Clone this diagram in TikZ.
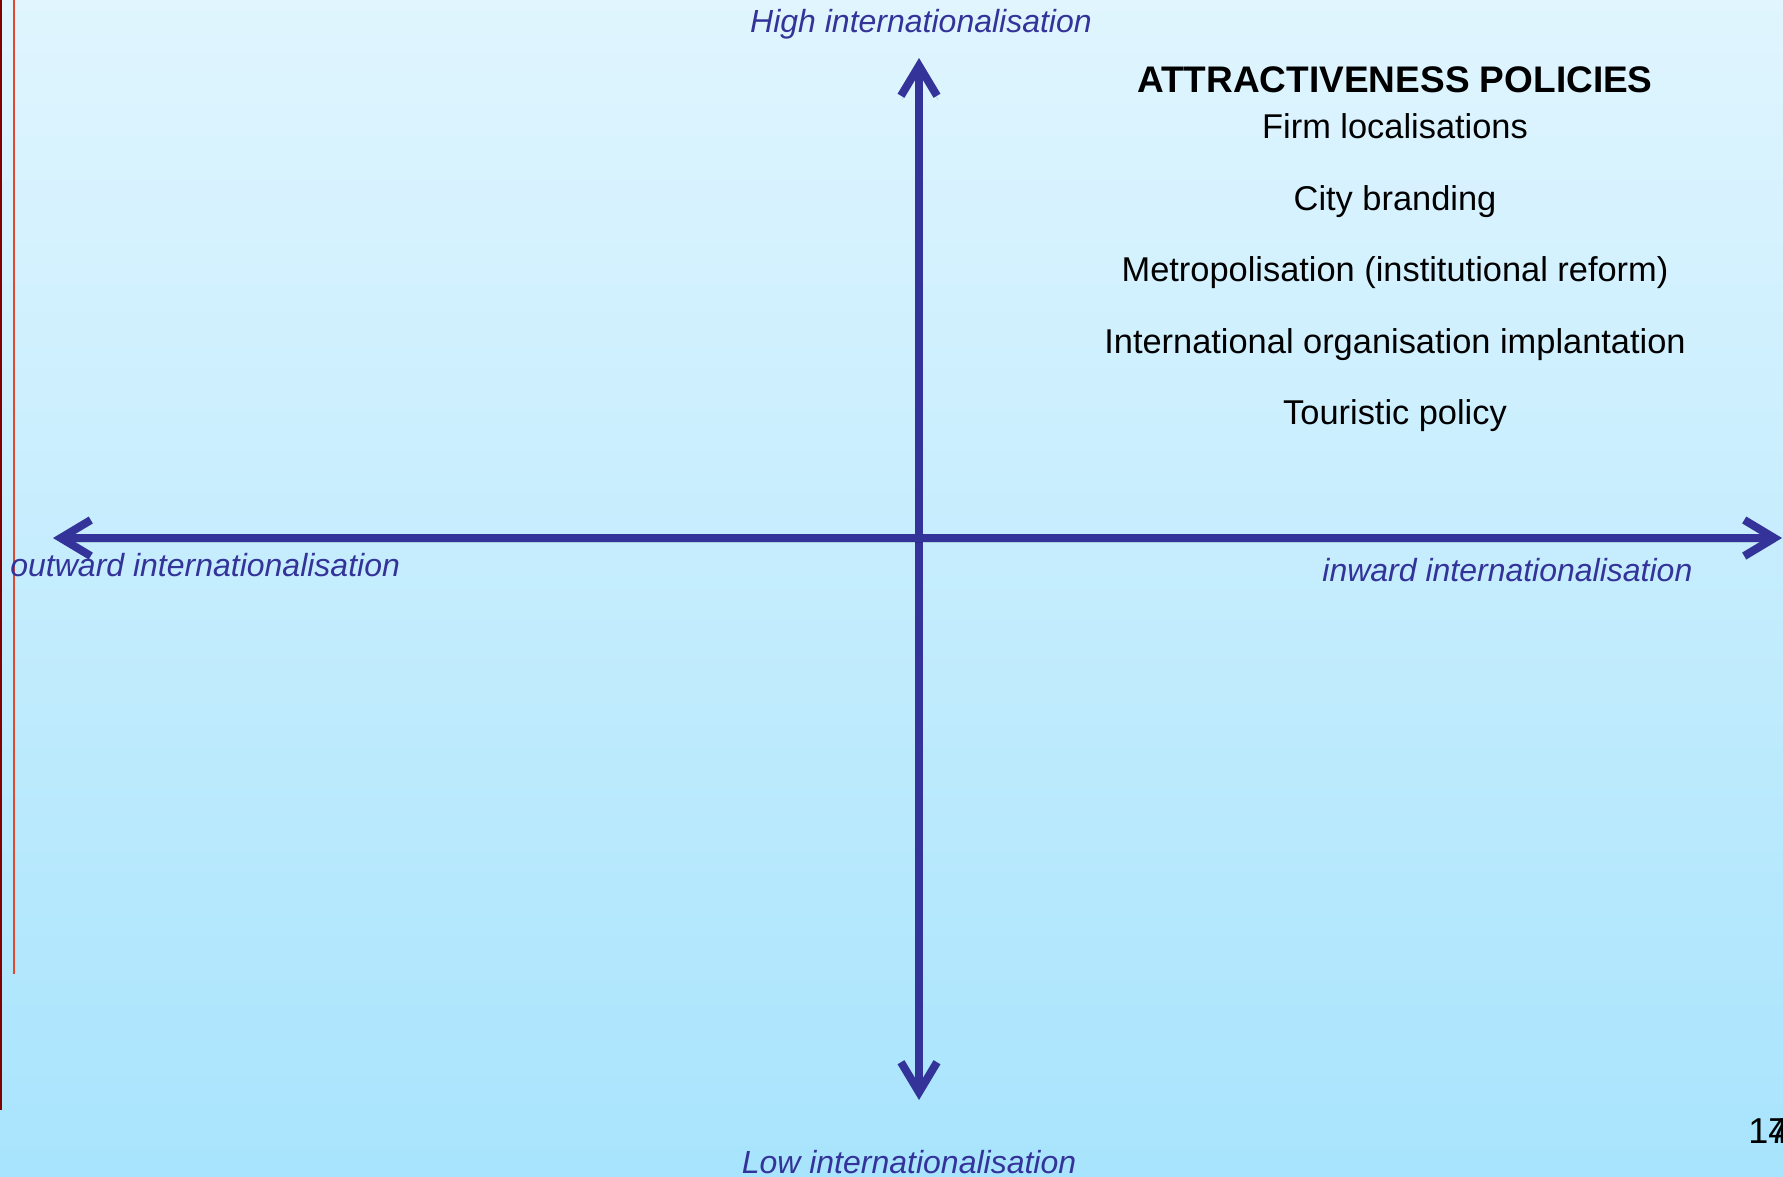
\documentclass[tikz,border=0pt]{standalone}
\usepackage{fontspec}
\setmainfont{Liberation Sans}
\usetikzlibrary{positioning, arrows.meta}

\definecolor{axisblue}{RGB}{51,51,153}
\definecolor{skytop}{RGB}{224,245,254}
\definecolor{skybottom}{RGB}{168,228,253}
\definecolor{darkrule}{RGB}{128,0,0}
\definecolor{lightrule}{RGB}{226,72,44}

\begin{document}
\begin{tikzpicture}[x=0.5pt, y=-0.5pt, node distance=19.1pt,
    barb/.tip={Straight Barb[length=15pt, width=18pt]},
    axis/.style={draw=axisblue, line width=4pt, barb-barb,
        preaction={draw=black, draw opacity=0.12, transform canvas={shift={(0.5pt,-2pt)}}}},
    axislabel/.style={inner sep=0pt, text=axisblue, font=\itshape\fontsize{16}{19}\selectfont},
    policy/.style={inner sep=0pt, text height=12.5pt, text depth=3.7pt, font=\fontsize{17.2}{20}\selectfont}]
    \clip (0,0) rectangle (1783,1177);
    \shade[top color=skytop, bottom color=skybottom] (0,0) rectangle (1783,1177);

    % margin rules
    \draw[darkrule, line width=1pt] (1,0) -- (1,1110);
    \draw[lightrule, line width=1pt] (14.3,0) -- (14.3,974);

    % axes
    \coordinate (high) at (919,58);
    \coordinate (low)  at (919,1100);
    \coordinate (west) at (53,538);
    \coordinate (east) at (1782,538);
    \draw[axis] (low) -- (high);
    \draw[axis] (west) -- (east);

    \node[axislabel, anchor=base]      (hightext) at (921,33)   {High internationalisation};
    \node[axislabel, anchor=base]      (lowtext)  at (909,1173) {Low internationalisation};
    \node[axislabel, anchor=base west] (outtext)  at (10,576)   {outward internationalisation};
    \node[axislabel, anchor=base west] (intext)   at (1322,581) {inward internationalisation};

    % policy list
    \node[inner sep=0pt, text height=13.3pt, text depth=0pt, anchor=base,
          font=\bfseries\fontsize{18.5}{22}\selectfont] (title) at (1395,93) {ATTRACTIVENESS POLICIES};
    \node[policy, below=10pt of title] (firm)    {Firm localisations};
    \node[policy, below=of firm]       (brand)   {City branding};
    \node[policy, below=of brand]      (metro)   {Metropolisation (institutional reform)};
    \node[policy, below=of metro]      (intorg)  {International organisation implantation};
    \node[policy, below=of intorg]     (tourism) {Touristic policy};

    \node[inner sep=0pt, anchor=base west, font=\fontsize{18}{21}\selectfont] (pagenum) at (1748,1143) {1\rlap{7}4};
\end{tikzpicture}
\end{document}
